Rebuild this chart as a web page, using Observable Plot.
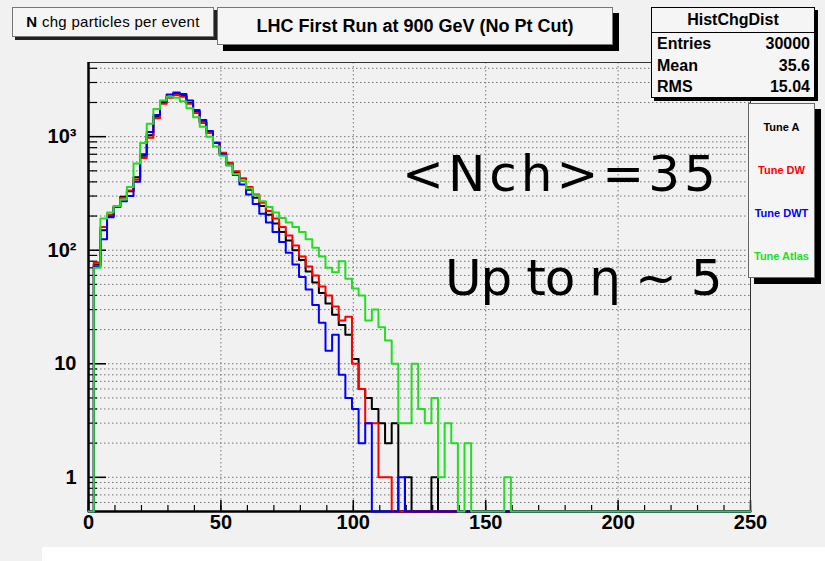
<!DOCTYPE html>
<html><head><meta charset="utf-8">
<script src="https://cdn.jsdelivr.net/npm/d3@7"></script>
<script src="https://cdn.jsdelivr.net/npm/@observablehq/plot@0.6"></script>
<style>
html,body{margin:0;padding:0;background:#f1f1f1;}
#wrap{position:relative;width:825px;height:561px;overflow:hidden;background:#f1f1f1;font-family:"Liberation Sans",Arial,sans-serif;}
#chart{position:absolute;left:0;top:0;}
.box{position:absolute;box-sizing:border-box;background:#f5f5f5;}
#lbl{left:12px;top:7px;width:202px;height:30px;border:1px solid #777;box-shadow:3px 3px 0 #222;font-size:15px;letter-spacing:0.3px;line-height:28px;text-align:center;color:#000;}
#ttl{left:217px;top:7px;width:396px;height:38px;border:1px solid #777;box-shadow:6px 6px 0 #000;font-size:18px;font-weight:bold;line-height:36px;text-align:center;color:#000;}
#stats{left:651px;top:7px;width:164px;height:91px;border:1px solid #000;box-shadow:3px 3px 0 #000;font-size:16px;font-weight:bold;color:#000;}
#stats .hd{height:24px;line-height:24px;text-align:center;border-bottom:1px solid #000;}
#stats .row{display:flex;justify-content:space-between;padding:0 4px 0 5px;height:21.5px;line-height:22px;}
#leg{left:748px;top:103px;width:67px;height:175px;border:1px solid #666;box-shadow:6px 6px 0 #000;font-size:11px;font-weight:bold;}
#leg div{position:absolute;left:0;width:100%;text-align:center;white-space:nowrap;}
.ann{position:absolute;font-family:"DejaVu Sans",sans-serif;font-size:50px;line-height:50px;color:#000;white-space:nowrap;}
#band{position:absolute;left:42px;top:547px;width:783px;height:14px;background:#fff;}
</style></head><body>
<div id="wrap">
  <div id="chart"></div>
  <div id="band"></div>
  <div class="box" id="lbl"></div>
  <div class="box" id="ttl"></div>
  <div class="box" id="stats"></div>
  <div class="box" id="leg"></div>
  <div class="ann" id="ann1"></div>
  <div class="ann" id="ann2"></div>
</div>
<script>
// ---- data ----
const tuneNames = ["Tune A", "Tune DW", "Tune DWT", "Tune Atlas"];
const tuneColors = ["#000000", "#ff0000", "#0000ff", "#22dd22"];
const binLow = -0.5, binWidth = 2.5, nBins = 100;   // histogram binning
const tuneA = [0,75,150,200,240,295,330,440,680,1030,1500,2000,2250,2370,2280,1980,1650,1340,1080,880,
  710,570,480,410,340,290,245,205,172,145,122,100,82,65,52,42,34,27,22,18,
  11,6,5,4,3,2,3,0,1,0,0,0,1];
const tuneDW = [0,78,160,205,245,290,335,420,650,980,1450,1950,2200,2330,2250,1950,1620,1320,1080,890,
  720,590,495,430,360,310,262,222,190,160,135,110,88,72,60,48,40,32,24,26,
  10,6,3,3,1,1];
const tuneDWT = [0,72,125,195,240,270,300,400,700,1100,1550,2050,2350,2450,2380,2080,1720,1400,1120,880,
  700,560,460,380,310,255,210,175,145,118,95,75,58,45,33,23,13,18,8,5,
  4,2,3,0,0,0,0,1];
const tuneAtlas = [0,70,190,215,245,280,360,580,880,1300,1750,2080,2250,2200,2050,1780,1480,1220,1000,820,
  680,560,470,410,350,305,270,240,215,192,175,160,145,125,105,88,70,64,80,56,
  46,40,24,30,21,16,10,3,3,10,4,3,5,1,3,2,0,2,0,0,0,0,0,1];
const xTickValues = [0, 50, 100, 150, 200, 250];
const yTickValues = [1, 10, 100, 1000];
const yTickLabels = ["1", "10", "10\u00b2", "10\u00b3"];
const statsTitle = "HistChgDist";
const statsRows = [["Entries", "30000"], ["Mean", "35.6"], ["RMS", "15.04"]];
const titleText = "LHC First Run at 900 GeV (No Pt Cut)";
const annText1 = "<Nch>=35";
const annText2 = "Up to \u03b7 ~ 5";

// ---- build step outlines ----
const xDomain = [0, 250];
const yDomain = [0.5, 4500];
const series = [tuneA, tuneDW, tuneDWT, tuneAtlas];
const steps = [];
series.forEach((vals, k) => {
  const full = Array.from({length: nBins}, (_, i) => vals[i] ?? 0);
  full.forEach((v, i) => {
    steps.push({tune: tuneNames[k], x: Math.max(binLow + i * binWidth, xDomain[0]), y: Math.max(v, yDomain[0])});
  });
  steps.push({tune: tuneNames[k], x: xDomain[1], y: Math.max(full[nBins - 1], yDomain[0])});
});

const mL = 88, mR = 75, mT = 62, mB = 50, W = 825, H = 561;
const frameW = W - mL - mR, frameH = H - mT - mB;
const yGrid = d3.scaleLog().domain(yDomain).ticks();
const yMinor = yGrid.filter(v => !yTickValues.includes(v));
const xMinor = d3.ticks(xDomain[0], xDomain[1], 25);
const xGrid = xTickValues.filter(v => v > xDomain[0] && v < xDomain[1]);

const chart = Plot.plot({
  width: W, height: H,
  marginLeft: mL, marginRight: mR, marginTop: mT, marginBottom: mB,
  style: {background: "transparent", fontFamily: "Liberation Sans, Arial, sans-serif", fontSize: "20px", fontWeight: "bold", color: "#000"},
  x: {domain: xDomain, label: null},
  y: {type: "log", domain: yDomain, label: null},
  color: {domain: tuneNames, range: tuneColors},
  marks: [
    Plot.gridY(yGrid, {stroke: "#777", strokeOpacity: 1, strokeDasharray: "1.5,2.5"}),
    Plot.gridX(xGrid, {stroke: "#777", strokeOpacity: 1, strokeDasharray: "1.5,2.5"}),
    Plot.tickY(yMinor, {y: d => d, insetRight: frameW - 9, stroke: "#000", strokeWidth: 1.2}),
    Plot.tickY(yTickValues, {y: d => d, insetRight: frameW - 18, stroke: "#000", strokeWidth: 1.5}),
    Plot.tickX(xMinor, {x: d => d, insetTop: frameH - 6, stroke: "#000", strokeWidth: 1.2}),
    Plot.tickX(xTickValues, {x: d => d, insetTop: frameH - 11, stroke: "#000", strokeWidth: 1.5}),
    Plot.frame({stroke: "#333", strokeWidth: 1}),
    Plot.ruleY([yDomain[0]], {stroke: "#000", strokeWidth: 2.5}),
    Plot.ruleX([xDomain[0]], {stroke: "#000", strokeWidth: 2.5}),
    Plot.line(steps, {x: "x", y: "y", z: "tune", stroke: "tune", curve: "step-after", strokeWidth: 2}),
    Plot.axisX(xTickValues, {tickSize: 0, tickPadding: 3, fontSize: 20, fontWeight: "bold", label: null}),
    Plot.axisY(yTickValues, {tickSize: 0, tickPadding: 12, fontSize: 20, fontWeight: "bold", label: null,
      tickFormat: d => yTickLabels[yTickValues.indexOf(d)]})
  ]
});
document.getElementById("chart").appendChild(chart);

// ---- overlay boxes ----
document.getElementById("lbl").innerHTML = "<b>N</b> chg particles per event";
document.getElementById("ttl").textContent = titleText;
const st = document.getElementById("stats");
st.innerHTML = `<div class="hd">${statsTitle}</div>` +
  statsRows.map(r => `<div class="row"><span>${r[0]}</span><span>${r[1]}</span></div>`).join("");
const leg = document.getElementById("leg");
tuneNames.forEach((n, i) => {
  const d = document.createElement("div");
  d.textContent = n;
  d.style.color = tuneColors[i];
  d.style.top = (17 + i * 43) + "px";
  leg.appendChild(d);
});
const a1 = document.getElementById("ann1");
a1.textContent = annText1; a1.style.left = "402px"; a1.style.top = "149px"; a1.style.letterSpacing = "4px";
const a2 = document.getElementById("ann2");
a2.textContent = annText2; a2.style.left = "445px"; a2.style.top = "253px"; a2.style.letterSpacing = "-1px";
</script>
</body></html>
